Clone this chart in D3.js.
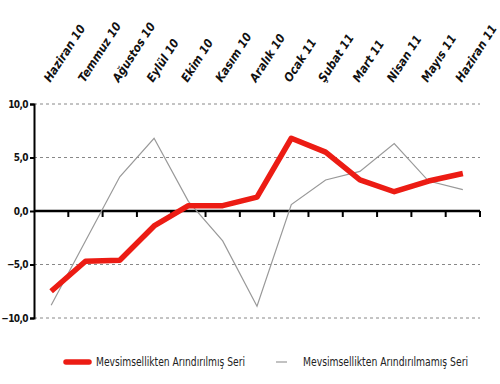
<!DOCTYPE html>
<html>
<head>
<meta charset="utf-8">
<script src="https://cdn.jsdelivr.net/npm/d3@7"></script>
<style>
  body { margin: 0; background: #fff; }
  svg { display: block; }
  .cat-label { font: italic bold 12px "DejaVu Sans Condensed", "Liberation Sans", sans-serif; fill: #111; }
  .y-label { font: bold 10px "DejaVu Sans Condensed", "Liberation Sans", sans-serif; fill: #111; letter-spacing: -0.6px; }
  .legend-text { font: 12px "DejaVu Sans Condensed", "Liberation Sans", sans-serif; fill: #222; }
</style>
</head>
<body>
<svg id="chart" width="500" height="384"></svg>
<script>
const MONTHS = ["Haziran 10", "Temmuz 10", "Ağustos 10", "Eylül 10", "Ekim 10", "Kasım 10", "Aralık 10",
  "Ocak 11", "Şubat 11", "Mart 11", "Nisan 11", "Mayıs 11", "Haziran 11"];
const ADJUSTED = [-7.5, -4.7, -4.6, -1.4, 0.5, 0.5, 1.3, 6.8, 5.5, 2.9, 1.8, 2.8, 3.5];
const UNADJUSTED = [-8.8, -2.8, 3.2, 6.8, 0.9, -2.8, -8.9, 0.6, 2.9, 3.7, 6.3, 2.8, 2.0];
const Y_TICKS = [10, 5, 0, -5, -10];
const SERIES_NAMES = ["Mevsimsellikten Arındırılmış Seri", "Mevsimsellikten Arındırılmamış Seri"];

const SVG = d3.select("#chart");
const MARGIN = { top: 104, bottom: 66, left: 34, right: 20 };
const WIDTH = 500;
const HEIGHT = 384;

const SCALE_X = d3.scaleBand()
  .domain(MONTHS)
  .range([MARGIN.left, WIDTH - MARGIN.right]);

const SCALE_Y = d3.scaleLinear()
  .domain([-10, 10])
  .range([HEIGHT - MARGIN.bottom, MARGIN.top]);

const midX = d => SCALE_X(d) + SCALE_X.bandwidth() / 2;

// gridlines
SVG.selectAll("line.grid")
  .data(Y_TICKS.filter(d => d !== 0))
  .enter()
  .append("line")
  .attr("class", "grid")
  .attr("x1", MARGIN.left)
  .attr("x2", WIDTH - MARGIN.right)
  .attr("y1", d => SCALE_Y(d))
  .attr("y2", d => SCALE_Y(d))
  .attr("stroke", "#888")
  .attr("stroke-width", 1)
  .attr("stroke-dasharray", "3,3");

// y axis
const Y_AXIS = SVG.append("g")
  .attr("transform", `translate(${MARGIN.left},0)`)
  .call(d3.axisLeft(SCALE_Y).tickValues(Y_TICKS).tickSize(4).tickFormat(d => d3.format(".1f")(d).replace(".", ",")));
Y_AXIS.select(".domain").attr("stroke", "#000").attr("stroke-width", 2);
Y_AXIS.selectAll(".tick line").attr("stroke", "#000").attr("stroke-width", 2);
Y_AXIS.selectAll(".tick text").attr("class", "y-label").attr("x", -6);

// x axis on zero
const X_AXIS = SVG.append("g")
  .attr("transform", `translate(0,${SCALE_Y(0)})`);
X_AXIS.append("line")
  .attr("x1", MARGIN.left)
  .attr("x2", WIDTH - MARGIN.right)
  .attr("stroke", "#000")
  .attr("stroke-width", 2.5);
X_AXIS.selectAll("line.xtick")
  .data(MONTHS)
  .enter()
  .append("line")
  .attr("class", "xtick")
  .attr("x1", d => SCALE_X(d) + SCALE_X.bandwidth())
  .attr("x2", d => SCALE_X(d) + SCALE_X.bandwidth())
  .attr("y1", 0)
  .attr("y2", 6)
  .attr("stroke", "#000")
  .attr("stroke-width", 2);

// category labels on top
SVG.selectAll("text.cat-label")
  .data(MONTHS)
  .enter()
  .append("text")
  .attr("class", "cat-label")
  .attr("transform", d => `translate(${midX(d) - 1},83) rotate(-57)`)
  .text(d => d);

const LINE = d3.line()
  .x((d, i) => midX(MONTHS[i]))
  .y(d => SCALE_Y(d));

SVG.append("path")
  .datum(UNADJUSTED)
  .attr("d", LINE)
  .attr("fill", "none")
  .attr("stroke", "#999")
  .attr("stroke-width", 1.2);

SVG.append("path")
  .datum(ADJUSTED)
  .attr("d", LINE)
  .attr("fill", "none")
  .attr("stroke", "#ec1c14")
  .attr("stroke-width", 5.5)
  .attr("stroke-linejoin", "round");

// legend
const LEGEND = [
  { name: SERIES_NAMES[0], color: "#ec1c14", width: 5.5, x: 66, textLen: 149 },
  { name: SERIES_NAMES[1], color: "#999", width: 1.2, x: 276, textLen: 165 }
];
const LEG = SVG.selectAll("g.legend")
  .data(LEGEND)
  .enter()
  .append("g")
  .attr("class", "legend")
  .attr("transform", d => `translate(${d.x},362)`);
LEG.append("line")
  .attr("x1", 0)
  .attr("x2", d => d.width > 2 ? 23 : 11)
  .attr("stroke", d => d.color)
  .attr("stroke-width", d => d.width)
  .attr("stroke-linecap", d => d.width > 2 ? "round" : "butt");
LEG.append("text")
  .attr("class", "legend-text")
  .attr("x", d => d.width > 2 ? 30 : 27)
  .attr("y", 4)
  .attr("textLength", d => d.textLen)
  .attr("lengthAdjust", "spacingAndGlyphs")
  .text(d => d.name);
</script>
</body>
</html>
